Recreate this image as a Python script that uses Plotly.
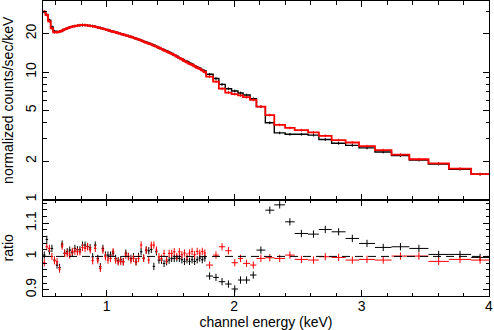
import plotly.graph_objects as go

# bin edges (keV)
edges = [0.50, 0.52, 0.54, 0.56, 0.58, 0.60, 0.62, 0.64, 0.66, 0.68,
         0.70, 0.72, 0.74, 0.76, 0.78, 0.80, 0.82, 0.84, 0.86, 0.88,
         0.90, 0.92, 0.94, 0.96, 0.98, 1.00, 1.02, 1.04, 1.06, 1.08,
         1.10, 1.12, 1.14, 1.16, 1.18, 1.20, 1.22, 1.24, 1.26, 1.28,
         1.30, 1.32, 1.34, 1.36, 1.38, 1.40, 1.42, 1.44, 1.46, 1.48,
         1.50, 1.52, 1.54, 1.56, 1.58, 1.60, 1.62, 1.64, 1.66, 1.68,
         1.70, 1.72, 1.74, 1.76, 1.78,
         1.835, 1.88, 1.93, 1.98, 2.03, 2.07, 2.125, 2.175, 2.245, 2.315,
         2.40, 2.475, 2.58, 2.665, 2.765, 2.875, 2.98, 3.105, 3.235, 3.375,
         3.525, 3.685, 3.86, 4.0]

# normalized counts/sec/keV
black_counts = [29.5, 28.2, 25.5, 22.6, 20.9, 20.7, 20.8, 21.1, 21.6, 22.0,
                22.4, 22.7, 22.9, 23.1, 23.2, 23.3, 23.3, 23.2, 23.1, 22.9,
                22.7, 22.4, 22.2, 21.9, 21.6, 21.3, 21.0, 20.8, 20.5, 20.2,
                20.0, 19.7, 19.4, 19.2, 18.9, 18.6, 18.3, 18.0, 17.7, 17.4,
                17.1, 16.8, 16.5, 16.2, 15.9, 15.5, 15.2, 14.9, 14.6, 14.3,
                14.0, 13.6, 13.3, 12.9, 12.6, 12.3, 12.1, 11.8, 11.5, 11.2,
                10.9, 10.7, 10.4, 10.2,
                9.6, 8.9, 8.0, 7.4, 7.1, 6.85, 6.6, 6.17, 5.35, 4.0,
                3.33, 3.25, 3.25, 3.2, 2.96, 2.76, 2.66, 2.54, 2.36, 2.21,
                2.04, 1.90, 1.73, 1.58]
red_counts = [29.8, 28.0, 25.0, 22.0, 20.5, 20.5, 20.7, 21.1, 21.6, 22.0,
              22.4, 22.7, 22.9, 23.1, 23.3, 23.4, 23.3, 23.2, 23.0, 22.9,
              22.7, 22.4, 22.1, 21.9, 21.6, 21.3, 21.0, 20.7, 20.5, 20.2,
              19.9, 19.7, 19.4, 19.1, 18.9, 18.6, 18.3, 18.0, 17.7, 17.3,
              17.0, 16.7, 16.5, 16.1, 15.8, 15.5, 15.2, 14.8, 14.5, 14.2,
              13.9, 13.6, 13.2, 12.9, 12.6, 12.2, 11.9, 11.6, 11.4, 11.1,
              10.8, 10.6, 10.3, 10.0,
              9.2, 8.4, 7.4, 6.9, 6.7, 6.56, 6.35, 6.05, 5.35, 4.6,
              3.85, 3.65, 3.5, 3.36, 3.16, 2.92, 2.80, 2.62, 2.44, 2.25,
              2.07, 1.92, 1.75, 1.58]

# data / model ratio
black_ratio = [1.004, 1.051, 1.016, 1.024, 0.989, 0.974, 0.967, 1.037, 1.010, 1.014,
               1.019, 1.011, 1.024, 1.020, 1.020, 1.034, 1.034, 1.030, 1.026, 0.999,
               1.034, 0.994, 0.969, 1.024, 1.004, 1.004, 1.004, 1.010, 0.994, 0.987,
               0.990, 0.984, 1.010, 1.000, 0.994, 0.999, 0.984, 1.000, 1.014, 0.995,
               1.019, 1.017, 1.021, 0.970, 1.014, 0.989, 0.989, 0.979, 0.984, 0.989,
               0.994, 0.994, 0.995, 0.994, 0.990, 0.985, 0.990, 0.985, 0.990, 0.985,
               0.990, 0.995, 0.990, 0.995,
               0.941, 0.937, 0.924, 0.917, 0.902, 0.929, 0.929, 0.944, 1.019, 1.139,
               1.155, 1.104, 1.069, 1.067, 1.081, 1.074, 1.054, 1.039, 1.027, 1.029,
               1.024, 1.006, 1.006, 0.997]
red_ratio = [0.981, 1.029, 1.024, 1.000, 0.987, 0.984, 0.962, 1.031, 1.009, 1.009,
             1.004, 1.015, 1.016, 1.014, 1.014, 1.027, 1.024, 1.029, 1.020, 0.987,
             1.024, 0.989, 0.964, 1.019, 0.999, 0.989, 0.994, 1.014, 0.989, 0.984,
             0.985, 0.984, 1.004, 0.999, 0.989, 0.994, 0.984, 0.994, 1.034, 0.994,
             1.019, 0.989, 1.034, 1.034, 1.019, 0.999, 0.994, 1.009, 0.989, 1.009,
             1.009, 1.014, 1.000, 1.014, 1.005, 1.010, 1.000, 1.010, 1.015, 1.005,
             1.015, 1.010, 1.015, 1.010,
             0.974, 1.004, 1.029, 1.017, 0.981, 0.994, 0.979, 0.974, 0.994, 0.996,
             0.994, 1.004, 0.991, 0.989, 0.999, 0.997, 0.989, 0.991, 0.989, 1.001,
             1.001, 0.985, 0.991, 0.989]

centers = [(a + b) / 2 for a, b in zip(edges[:-1], edges[1:])]
halfw = [(b - a) / 2 for a, b in zip(edges[:-1], edges[1:])]

FONT = "Liberation Sans, Arial, Helvetica, sans-serif"

fig = go.Figure()

for counts, ratio, col, lw in [(black_counts, black_ratio, "black", 1.4),
                               (red_counts, red_ratio, "red", 1.8)]:
    # step histogram in upper panel
    fig.add_trace(go.Scatter(x=edges, y=counts + [counts[-1]], mode="lines",
                             line=dict(color=col, width=lw, shape="hv"),
                             xaxis="x", yaxis="y", showlegend=False))
    fig.add_trace(go.Scatter(x=centers, y=counts, mode="markers",
                             marker=dict(size=1, color=col),
                             error_y=dict(type="percent", value=2.5, color=col,
                                          thickness=1, width=0),
                             xaxis="x", yaxis="y", showlegend=False))
    # ratio crosses in lower panel
    fig.add_trace(go.Scatter(x=centers, y=ratio, mode="markers",
                             marker=dict(size=1, color=col),
                             error_x=dict(type="data", array=halfw, color=col,
                                          thickness=1, width=0),
                             error_y=dict(type="constant", value=0.011, color=col,
                                          thickness=1, width=0),
                             xaxis="x2", yaxis="y2", showlegend=False))

# dashed reference line at ratio = 1
fig.add_trace(go.Scatter(x=[0.5, 4.0], y=[1, 1], mode="lines",
                         line=dict(color="black", width=1, dash="8px,5px"),
                         xaxis="x2", yaxis="y2", showlegend=False))

split = 0.327
axis_common = dict(showline=True, linecolor="black", linewidth=1, mirror="allticks",
                   ticks="inside", tickcolor="black", showgrid=False, zeroline=False,
                   automargin=False)

fig.update_layout(
    width=494, height=330,
    margin=dict(l=43, r=5, t=1, b=34),
    plot_bgcolor="white", paper_bgcolor="white",
    font=dict(family=FONT, size=14, color="black"),
    xaxis=dict(domain=[0, 1], anchor="y", range=[0.5, 4], dtick=1, ticklen=6,
               showticklabels=False, matches="x2",
               minor=dict(ticks="inside", dtick=0.2, ticklen=3.5, tickcolor="black"),
               **axis_common),
    yaxis=dict(domain=[split, 1], anchor="x", type="log", range=[0, 1.557],
               tickvals=[1, 2, 5, 10, 20], ticktext=["1", "2", "5", "10", "20"],
               tickangle=-90, ticklen=6, tickfont=dict(size=14),
               minor=dict(ticks="inside", tickvals=[3, 4, 6, 7, 8, 9, 30],
                          ticklen=3.5, tickcolor="black"),
               title=dict(text="normalized counts/sec/keV", font=dict(size=14)),
               **axis_common),
    xaxis2=dict(domain=[0, 1], anchor="y2", range=[0.5, 4], dtick=1, ticklen=6,
                tickfont=dict(size=14), ticklabelstandoff=-3,
                minor=dict(ticks="inside", dtick=0.2, ticklen=3.5, tickcolor="black"),
                title=dict(text="channel energy (keV)", font=dict(size=14)),
                **axis_common),
    yaxis2=dict(domain=[0, split], anchor="x2", range=[0.881, 1.171],
                tickvals=[0.9, 1, 1.1], ticktext=["0.9", "1", "1.1"],
                tickangle=-90, ticklen=6, tickfont=dict(size=14),
                minor=dict(ticks="inside", dtick=0.02, ticklen=3.5, tickcolor="black"),
                title=dict(text="ratio", font=dict(size=14)),
                **axis_common),
)

fig.write_html("out.html", config={"displayModeBar": False},
               post_script="document.body.style.margin='0';")
